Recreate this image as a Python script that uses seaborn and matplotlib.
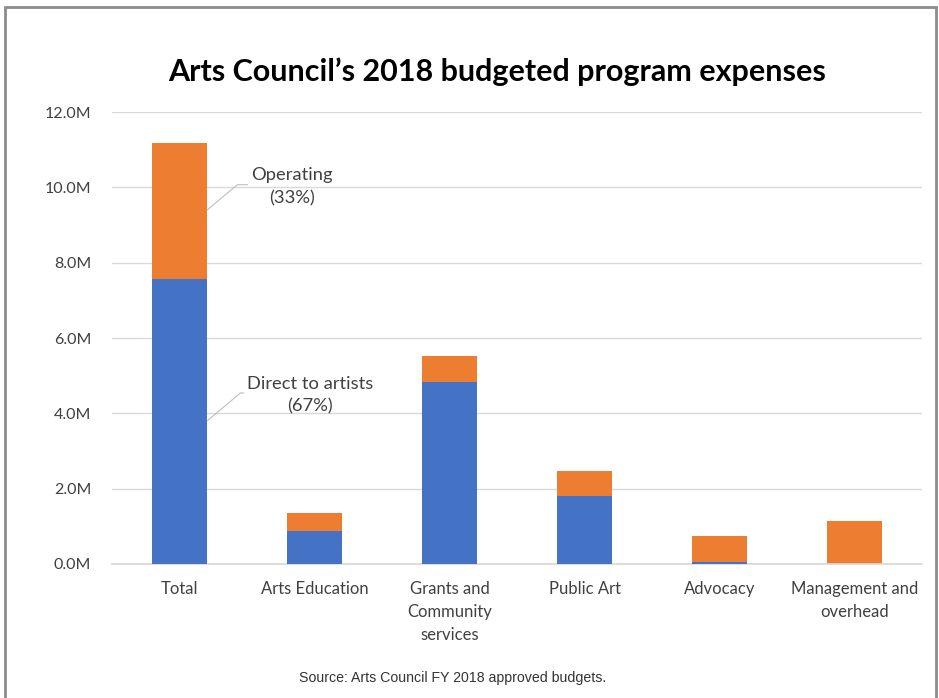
import matplotlib
matplotlib.use("Agg")
import matplotlib.pyplot as plt
import matplotlib.ticker as mticker
import seaborn as sns
import pandas as pd

# values in millions
categories = ["Total", "Arts Education", "Grants and\nCommunity\nservices",
              "Public Art", "Advocacy", "Management and\noverhead"]
direct_to_artists = [7.56, 0.87, 4.83, 1.81, 0.06, 0.0]
operating = [3.63, 0.48, 0.69, 0.67, 0.68, 1.15]
callouts = ["Operating\n(33%)", "Direct to artists\n(67%)"]

blue = "#4472C4"
orange = "#ED7D31"

sns.set_theme(style="white")
plt.rcParams['font.family'] = ['Lato', 'DejaVu Sans']

df = pd.DataFrame({"category": categories,
                   "direct": direct_to_artists,
                   "operating": operating})
df["total"] = df["direct"] + df["operating"]

fig = plt.figure(figsize=(9.39, 6.98), dpi=100)
ax = fig.add_axes([0.1193, 0.192, 0.8627, 0.6475])

# stacked bars: draw the full height in orange then the blue part over it
sns.barplot(data=df, x="category", y="total", color=orange, width=0.41,
            saturation=1, linewidth=0, ax=ax, zorder=2)
sns.barplot(data=df, x="category", y="direct", color=blue, width=0.41,
            saturation=1, linewidth=0, ax=ax, zorder=3)

ax.set_ylim(0, 12)
ax.set_yticks([0, 2, 4, 6, 8, 10, 12])
ax.yaxis.set_major_formatter(mticker.FuncFormatter(lambda v, p: f"{v:.1f}M"))
ax.yaxis.grid(True, color="#D9D9D9", linewidth=1)
ax.set_axisbelow(True)
for s in ["top", "right", "left"]:
    ax.spines[s].set_visible(False)
ax.spines["bottom"].set_color("#D9D9D9")
ax.set_xlabel("")
ax.set_ylabel("")
ax.tick_params(axis="y", length=0, pad=15, labelsize=11.5, labelcolor="#404040")
ax.tick_params(axis="x", length=0, pad=12, labelsize=12, labelcolor="#404040")
for lbl in ax.get_xticklabels():
    lbl.set_linespacing(1.55)
ax.set_xlim(-0.5, len(categories) - 0.5)

# callout labels on the total bar
leader = dict(arrowstyle="-", color="#BFBFBF", lw=0.8, shrinkA=0, shrinkB=0,
              connectionstyle="angle,angleA=0,angleB=40,rad=0",
              relpos=(0.0, 0.55))
ax.annotate(callouts[0], xy=(0.205, 9.4), xytext=(0.83, 10.02),
            ha="center", va="center", fontsize=13.2, color="#404040",
            linespacing=1.5, arrowprops=leader)
ax.annotate(callouts[1], xy=(0.205, 3.8), xytext=(0.967, 4.49),
            ha="center", va="center", fontsize=13.2, color="#404040",
            linespacing=1.5, arrowprops=leader)

fig.text(0.529, 0.898, "Arts Council\u2019s 2018 budgeted program expenses",
         ha="center", va="center", fontsize=22, fontweight="bold",
         color="black")
fig.text(0.482, 0.028, "Source: Arts Council FY 2018 approved budgets.",
         ha="center", va="center", fontsize=10.2, color="#333333",
         family=["Liberation Sans", "DejaVu Sans"])

# grey frame around the figure
frame = plt.Rectangle((0.005, -0.02), 0.992, 1.01, transform=fig.transFigure,
                      fill=False, edgecolor="#8C8C8C", linewidth=2)
fig.patches.append(frame)

fig.savefig("out.png", dpi=100)
